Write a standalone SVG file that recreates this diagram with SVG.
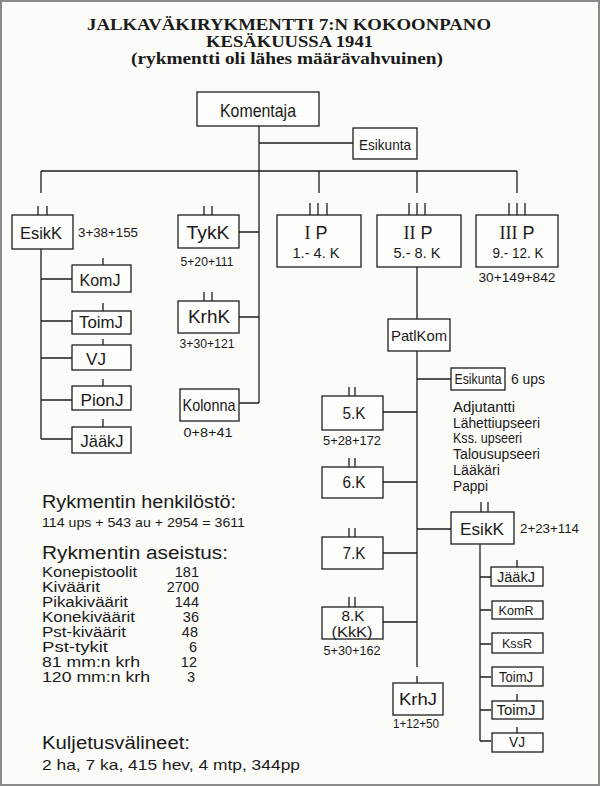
<svg xmlns="http://www.w3.org/2000/svg" width="600" height="786" viewBox="0 0 600 786">
<style>
.bg{fill:#fbfbf8}
.frame{fill:none;stroke:#8a8a8a;stroke-width:2}
.box{fill:#fdfdfb;stroke:#1e1e1e;stroke-width:1.3}
.ln{fill:none;stroke:#1e1e1e;stroke-width:1.3}
.t{font-family:"Liberation Sans","DejaVu Sans",sans-serif;fill:#1a1a1a}
.c{text-anchor:middle}
.e{text-anchor:end}
.title{font-family:"Liberation Serif","Times New Roman",serif;font-weight:bold;fill:#1a1a1a;text-anchor:middle}
.rn{font-family:"Liberation Serif",serif}
</style>
<rect class="bg" x="0" y="0" width="600" height="786"/>
<rect class="frame" x="1" y="1" width="598" height="784"/>

<g id="title">
<text class="title" x="289" y="30" font-size="17" textLength="404" lengthAdjust="spacingAndGlyphs">JALKAVÄKIRYKMENTTI 7:N KOKOONPANO</text>
<text class="title" x="289.5" y="46.5" font-size="17" textLength="167" lengthAdjust="spacingAndGlyphs">KESÄKUUSSA 1941</text>
<text class="title" x="287" y="64" font-size="17" textLength="312" lengthAdjust="spacingAndGlyphs">(rykmentti oli lähes määrävahvuinen)</text>
</g>

<g id="connectors">
<path class="ln" d="M259,126 V403 M259,143 H353 M41,171 H517 M41,171 V193 M319,171 V193 M417,171 V193 M517,171 V193"/>
<path class="ln" d="M41,249 V439 M41,279 H72 M41,321 H72 M41,358 H72 M41,400 H72 M41,439 H72"/>
<path class="ln" d="M239,232 H259 M239,317 H259 M239,403 H259"/>
<path class="ln" d="M417,267 V319 M417,351 V667 M417,379 H451 M383,412 H417 M383,482 H417 M383,553 H417 M383,622 H417 M417,529 H451"/>
<path class="ln" d="M480,544 V741 M480,577 H491 M480,610 H491 M480,644 H491 M480,677 H491 M480,710 H491 M480,741 H491"/>
</g>

<g id="ticks">
<path class="ln" d="M38,206 V215 M47,206 V215 M204,206 V215 M212,206 V215 M204,292 V301 M212,292 V301"/>
<path class="ln" d="M103,258 V265 M103,303 V311 M103,339 V345 M103,379 V386 M103,419 V427"/>
<path class="ln" d="M310,203 V215 M318,203 V215 M327,203 V215 M409,203 V215 M417,203 V215 M425,203 V215 M509,203 V215 M517,203 V215 M525,203 V215"/>
<path class="ln" d="M349,387 V396 M355,387 V396 M349,458 V467 M355,458 V467 M349,528 V537 M355,528 V537 M349,597 V607 M355,597 V607 M417,676 V683 M481,502 V512 M488,502 V512"/>
<path class="ln" d="M517,560 V567 M517,694 V701 M517,727 V733"/>
</g>

<g id="komentaja"><rect class="box" x="197" y="92" width="122" height="34"/><text class="t c" x="258" y="117" font-size="19" textLength="76" lengthAdjust="spacingAndGlyphs">Komentaja</text></g>
<g id="esikunta"><rect class="box" x="353" y="128" width="64" height="31"/><text class="t c" x="385" y="150" font-size="15" textLength="52" lengthAdjust="spacingAndGlyphs">Esikunta</text></g>

<g id="esikk1"><rect class="box" x="12" y="215" width="61" height="34"/><text class="t c" x="41" y="239" font-size="17" textLength="42" lengthAdjust="spacingAndGlyphs">EsikK</text><text class="t" x="78" y="237" font-size="13" textLength="60" lengthAdjust="spacingAndGlyphs">3+38+155</text></g>
<g id="komj1"><rect class="box" x="72" y="265" width="59" height="27"/><text class="t c" x="100" y="286" font-size="17" textLength="41" lengthAdjust="spacingAndGlyphs">KomJ</text></g>
<g id="toimj1"><rect class="box" x="72" y="311" width="59" height="23"/><text class="t c" x="101" y="328" font-size="16" textLength="44" lengthAdjust="spacingAndGlyphs">ToimJ</text></g>
<g id="vj1"><rect class="box" x="72" y="345" width="59" height="25"/><text class="t c" x="96" y="365" font-size="17" textLength="20" lengthAdjust="spacingAndGlyphs">VJ</text></g>
<g id="pionj"><rect class="box" x="72" y="386" width="59" height="24"/><text class="t c" x="102" y="406" font-size="17" textLength="43" lengthAdjust="spacingAndGlyphs">PionJ</text></g>
<g id="jaakj1"><rect class="box" x="72" y="427" width="59" height="26"/><text class="t c" x="102" y="447" font-size="17" textLength="43" lengthAdjust="spacingAndGlyphs">JääkJ</text></g>

<g id="tykk"><rect class="box" x="178" y="215" width="61" height="33"/><text class="t c" x="208" y="239" font-size="18" textLength="43" lengthAdjust="spacingAndGlyphs">TykK</text><text class="t c" x="207" y="266" font-size="13" textLength="53" lengthAdjust="spacingAndGlyphs">5+20+111</text></g>
<g id="krhk"><rect class="box" x="178" y="301" width="61" height="32"/><text class="t c" x="209" y="323" font-size="18" textLength="42" lengthAdjust="spacingAndGlyphs">KrhK</text><text class="t c" x="207" y="348" font-size="13" textLength="55" lengthAdjust="spacingAndGlyphs">3+30+121</text></g>
<g id="kolonna"><rect class="box" x="180" y="389" width="59" height="32"/><text class="t c" x="209" y="411" font-size="17" textLength="53" lengthAdjust="spacingAndGlyphs">Kolonna</text><text class="t c" x="208" y="437" font-size="13" textLength="49" lengthAdjust="spacingAndGlyphs">0+8+41</text></g>

<g id="ip"><rect class="box" x="277" y="215" width="84" height="52"/><text class="t c" x="316" y="239" font-size="18"><tspan class="rn">I</tspan> P</text><text class="t c" x="316" y="258" font-size="15" textLength="47" lengthAdjust="spacingAndGlyphs">1.- 4. K</text></g>
<g id="iip"><rect class="box" x="377" y="215" width="84" height="52"/><text class="t c" x="418" y="239" font-size="18"><tspan class="rn">II</tspan> P</text><text class="t c" x="417" y="258" font-size="15" textLength="47" lengthAdjust="spacingAndGlyphs">5.- 8. K</text></g>
<g id="iiip"><rect class="box" x="476" y="215" width="82" height="52"/><text class="t c" x="517" y="239" font-size="18"><tspan class="rn">III</tspan> P</text><text class="t c" x="518" y="258" font-size="15" textLength="51" lengthAdjust="spacingAndGlyphs">9.- 12. K</text><text class="t c" x="517" y="282" font-size="13" textLength="77" lengthAdjust="spacingAndGlyphs">30+149+842</text></g>

<g id="patlkom"><rect class="box" x="388" y="319" width="62" height="32"/><text class="t c" x="419" y="341" font-size="15" textLength="56" lengthAdjust="spacingAndGlyphs">PatlKom</text></g>
<g id="esikunta2"><rect class="box" x="451" y="368" width="54" height="22"/><text class="t c" x="478" y="384" font-size="14" textLength="47" lengthAdjust="spacingAndGlyphs">Esikunta</text><text class="t" x="511" y="384" font-size="15" textLength="34" lengthAdjust="spacingAndGlyphs">6 ups</text></g>
<g id="staff">
<text class="t" x="453" y="412" font-size="14" textLength="62" lengthAdjust="spacingAndGlyphs">Adjutantti</text>
<text class="t" x="453" y="427.5" font-size="14" textLength="87" lengthAdjust="spacingAndGlyphs">Lähettiupseeri</text>
<text class="t" x="453" y="443" font-size="14" textLength="69" lengthAdjust="spacingAndGlyphs">Kss. upseeri</text>
<text class="t" x="453" y="459" font-size="14" textLength="87" lengthAdjust="spacingAndGlyphs">Talousupseeri</text>
<text class="t" x="453" y="475" font-size="14" textLength="47" lengthAdjust="spacingAndGlyphs">Lääkäri</text>
<text class="t" x="453" y="491" font-size="14" textLength="35" lengthAdjust="spacingAndGlyphs">Pappi</text>
</g>

<g id="k5"><rect class="box" x="322" y="396" width="61" height="34"/><text class="t c" x="354" y="419" font-size="16" textLength="23" lengthAdjust="spacingAndGlyphs">5.K</text><text class="t c" x="352" y="445" font-size="13" textLength="58" lengthAdjust="spacingAndGlyphs">5+28+172</text></g>
<g id="k6"><rect class="box" x="322" y="467" width="61" height="31"/><text class="t c" x="354" y="488" font-size="16" textLength="23" lengthAdjust="spacingAndGlyphs">6.K</text></g>
<g id="k7"><rect class="box" x="322" y="537" width="61" height="32"/><text class="t c" x="354" y="559" font-size="16" textLength="23" lengthAdjust="spacingAndGlyphs">7.K</text></g>
<g id="k8"><rect class="box" x="322" y="607" width="61" height="32"/><text class="t c" x="353" y="621" font-size="15" textLength="23" lengthAdjust="spacingAndGlyphs">8.K</text><text class="t c" x="352" y="637" font-size="15" textLength="41" lengthAdjust="spacingAndGlyphs">(KkK)</text><text class="t c" x="352" y="655" font-size="13" textLength="57" lengthAdjust="spacingAndGlyphs">5+30+162</text></g>
<g id="krhj"><rect class="box" x="393" y="683" width="50" height="32"/><text class="t c" x="418" y="705" font-size="17" textLength="38" lengthAdjust="spacingAndGlyphs">KrhJ</text><text class="t c" x="416" y="728" font-size="13" textLength="46" lengthAdjust="spacingAndGlyphs">1+12+50</text></g>

<g id="esikk2"><rect class="box" x="451" y="512" width="63" height="32"/><text class="t c" x="482" y="535" font-size="17" textLength="44" lengthAdjust="spacingAndGlyphs">EsikK</text><text class="t" x="520" y="533" font-size="13" textLength="59" lengthAdjust="spacingAndGlyphs">2+23+114</text></g>
<g id="jaakj2"><rect class="box" x="491" y="567" width="52" height="19"/><text class="t c" x="516" y="582" font-size="14" textLength="38" lengthAdjust="spacingAndGlyphs">JääkJ</text></g>
<g id="komr"><rect class="box" x="492" y="601" width="51" height="18"/><text class="t c" x="516" y="615" font-size="13" textLength="35" lengthAdjust="spacingAndGlyphs">KomR</text></g>
<g id="kssr"><rect class="box" x="492" y="633" width="51" height="20"/><text class="t c" x="517" y="648" font-size="13" textLength="30" lengthAdjust="spacingAndGlyphs">KssR</text></g>
<g id="toimj2"><rect class="box" x="492" y="667" width="51" height="19"/><text class="t c" x="516" y="682" font-size="14" textLength="34" lengthAdjust="spacingAndGlyphs">ToimJ</text></g>
<g id="toimj3"><rect class="box" x="492" y="701" width="51" height="18"/><text class="t c" x="516" y="715" font-size="14" textLength="39" lengthAdjust="spacingAndGlyphs">ToimJ</text></g>
<g id="vj2"><rect class="box" x="492" y="733" width="51" height="19"/><text class="t c" x="517" y="747" font-size="14" textLength="16" lengthAdjust="spacingAndGlyphs">VJ</text></g>

<g id="summary">
<text class="t" x="42" y="508" font-size="18" textLength="194" lengthAdjust="spacingAndGlyphs">Rykmentin henkilöstö:</text>
<text class="t" x="42" y="527" font-size="13.5" textLength="203" lengthAdjust="spacingAndGlyphs">114 ups + 543 au + 2954 = 3611</text>
<text class="t" x="42" y="559" font-size="18" textLength="186" lengthAdjust="spacingAndGlyphs">Rykmentin aseistus:</text>
<text class="t" x="42" y="577" font-size="14" textLength="95" lengthAdjust="spacingAndGlyphs">Konepistoolit</text>
<text class="t" x="42" y="592" font-size="14" textLength="58" lengthAdjust="spacingAndGlyphs">Kiväärit</text>
<text class="t" x="42" y="607" font-size="14" textLength="86" lengthAdjust="spacingAndGlyphs">Pikakiväärit</text>
<text class="t" x="42" y="622" font-size="14" textLength="93" lengthAdjust="spacingAndGlyphs">Konekiväärit</text>
<text class="t" x="42" y="637" font-size="14" textLength="84" lengthAdjust="spacingAndGlyphs">Pst-kiväärit</text>
<text class="t" x="42" y="652" font-size="14" textLength="66" lengthAdjust="spacingAndGlyphs">Pst-tykit</text>
<text class="t" x="42" y="667" font-size="14" textLength="98" lengthAdjust="spacingAndGlyphs">81 mm:n krh</text>
<text class="t" x="42" y="682" font-size="14" textLength="108" lengthAdjust="spacingAndGlyphs">120 mm:n krh</text>
<text class="t e" x="199" y="577" font-size="14.5">181</text>
<text class="t e" x="199" y="592" font-size="14.5">2700</text>
<text class="t e" x="199" y="607" font-size="14.5">144</text>
<text class="t e" x="199" y="622" font-size="14.5">36</text>
<text class="t e" x="198" y="637" font-size="14.5">48</text>
<text class="t e" x="197" y="652" font-size="14.5">6</text>
<text class="t e" x="197" y="667" font-size="14.5">12</text>
<text class="t e" x="195" y="682" font-size="14.5">3</text>
<text class="t" x="42" y="749" font-size="18" textLength="148" lengthAdjust="spacingAndGlyphs">Kuljetusvälineet:</text>
<text class="t" x="42" y="770" font-size="15" textLength="258" lengthAdjust="spacingAndGlyphs">2 ha, 7 ka, 415 hev, 4 mtp, 344pp</text>
</g>
</svg>
